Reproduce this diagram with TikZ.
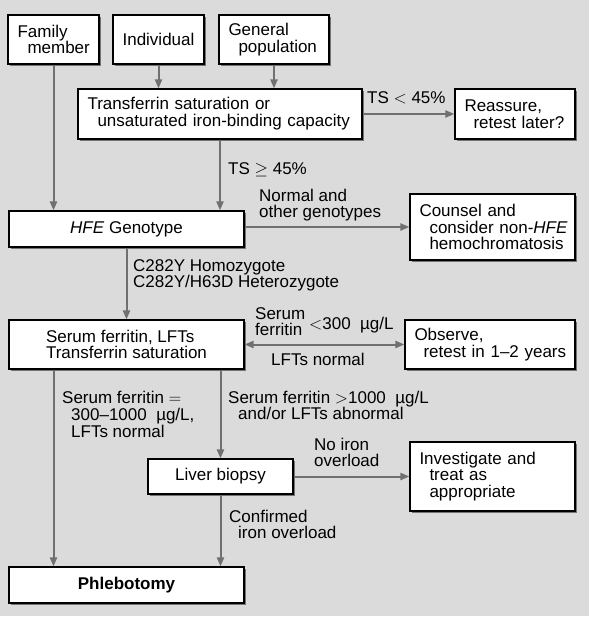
\documentclass[tikz,border=0pt]{standalone}
\usepackage{fontspec}
\setmainfont{Liberation Sans}
\usetikzlibrary{arrows.meta,shadows}
\definecolor{bg}{RGB}{219,219,219}
\definecolor{arr}{RGB}{112,112,112}
\hyphenpenalty=10000
\exhyphenpenalty=10000
\hfuzz=60pt
\hbadness=10000
\begin{document}
\begin{tikzpicture}[x=1pt,y=-1pt,
  txt/.style={font=\fontsize{17}{16.8}\selectfont},
  box/.style={txt, draw=black, line width=1.1pt, fill=white, inner ysep=0pt,
    drop shadow={shadow xshift=2pt,shadow yshift=-2pt,fill=black!55,opacity=1}},
  cbox/.style n args={2}{box, align=center, inner xsep=0pt, minimum width=#1, minimum height=#2},
  lbox/.style n args={2}{box, align=left, inner xsep=9.5pt, text width=#1, minimum height=#2},
  lab/.style={txt, anchor=base west, inner sep=0pt},
  conn/.style={draw=arr, line width=2pt, -{Triangle[length=9pt,width=7pt]}},
  conn2/.style={draw=arr, line width=2pt, {Triangle[length=9pt,width=7pt]}-{Triangle[length=9pt,width=7pt]}},
]
\useasboundingbox (0,0) rectangle (589,620);
\fill[bg] (0,0) rectangle (589,616);

% boxes
\node[lbox={72pt}{49pt}] (fam) at (53.5,39.5) {\mbox{Family}\\\mbox{\hspace*{10pt}member}};
\node[cbox={91pt}{49pt}] (ind) at (158.5,39.5) {Individual};
\node[lbox={91pt}{49pt}] (gen) at (274,39.5) {\mbox{General}\\\mbox{\hspace*{10pt}population}};
\node[lbox={265pt}{50pt}] (ts) at (220,114) {\mbox{Transferrin saturation or}\\\mbox{\hspace*{10pt}unsaturated iron-binding capacity}};
\node[lbox={101pt}{50pt}] (reas) at (515,114) {\mbox{Reassure,}\\\mbox{\hspace*{9pt}retest later?}};
\node[cbox={235pt}{36pt}] (hfe) at (126.5,229) {\textit{HFE} Genotype};
\node[lbox={146pt}{66pt}] (couns) at (492.5,227) {\mbox{Counsel and}\\\mbox{\hspace*{10pt}consider non-\textit{HFE}}\\\mbox{\hspace*{10pt}hemochromatosis}};
\node[cbox={235pt}{49pt}, align=left] (serum) at (126.5,344.5) {Serum ferritin, LFTs\\Transferrin saturation};
\node[lbox={151pt}{49pt}] (obs) at (490,344.5) {\mbox{Observe,}\\\mbox{\hspace*{9pt}retest in 1--2 years}};
\node[cbox={145pt}{35pt}] (liver) at (220.5,476.5) {Liver biopsy};
\node[lbox={146pt}{69pt}] (inv) at (492.5,476.5) {\mbox{Investigate and}\\\mbox{\hspace*{10pt}treat as}\\\mbox{\hspace*{10pt}appropriate}};
\node[cbox={235pt}{36pt}] (phleb) at (126.5,585) {\textbf{Phlebotomy}};

% connectors
\draw[conn] (fam.south) -- (fam.south |- hfe.north);
\draw[conn] (ind.south) -- (ind.south |- ts.north);
\draw[conn] (gen.south) -- (gen.south |- ts.north);
\draw[conn] (ts.south) -- (ts.south |- hfe.north);
\draw[conn] (ts.east) -- (reas.west);
\draw[conn] (hfe.east |- couns.west) -- (couns.west);
\draw[conn] (hfe.south) -- (serum.north);
\draw[conn2] (serum.east) -- (obs.west);
\draw[conn] (serum.south -| fam.south) -- (phleb.north -| fam.south);
\draw[conn] (serum.south -| liver.north) -- (liver.north);
\draw[conn] (liver.south) -- (liver.south |- phleb.north);
\draw[conn] (liver.east) -- (liver.east -| inv.west);

% labels
\node[lab] (l1) at (228,175) {TS $\geq$ 45\%};
\node[lab] (l2) at (367,104) {TS $<$ 45\%};
\node[lab] (l3a) at (259,202) {Normal and};
\node[lab] (l3b) at (259,218) {other genotypes};
\node[lab] (l4a) at (133,271) {C282Y Homozygote};
\node[lab] (l4b) at (133,287) {C282Y/H63D Heterozygote};
\node[lab] (l5a) at (255,319) {Serum};
\node[lab] (l5b) at (255,335) {ferritin};
\node[lab] (l5c) at (309,329) {$<$300~~µg/L};
\node[lab] (l6) at (271,365) {LFTs normal};
\node[lab] (l7a) at (62,403) {Serum ferritin $=$};
\node[lab] (l7b) at (71,420) {300--1000~~µg/L,};
\node[lab] (l7c) at (71,437) {LFTs normal};
\node[lab] (l8a) at (228,403) {Serum ferritin $>$1000~~µg/L};
\node[lab] (l8b) at (238,419) {and/or LFTs abnormal};
\node[lab] (l9a) at (314,450) {No iron};
\node[lab] (l9b) at (314,466) {overload};
\node[lab] (l10a) at (229,522) {Confirmed};
\node[lab] (l10b) at (238,538) {iron overload};
\end{tikzpicture}
\end{document}
